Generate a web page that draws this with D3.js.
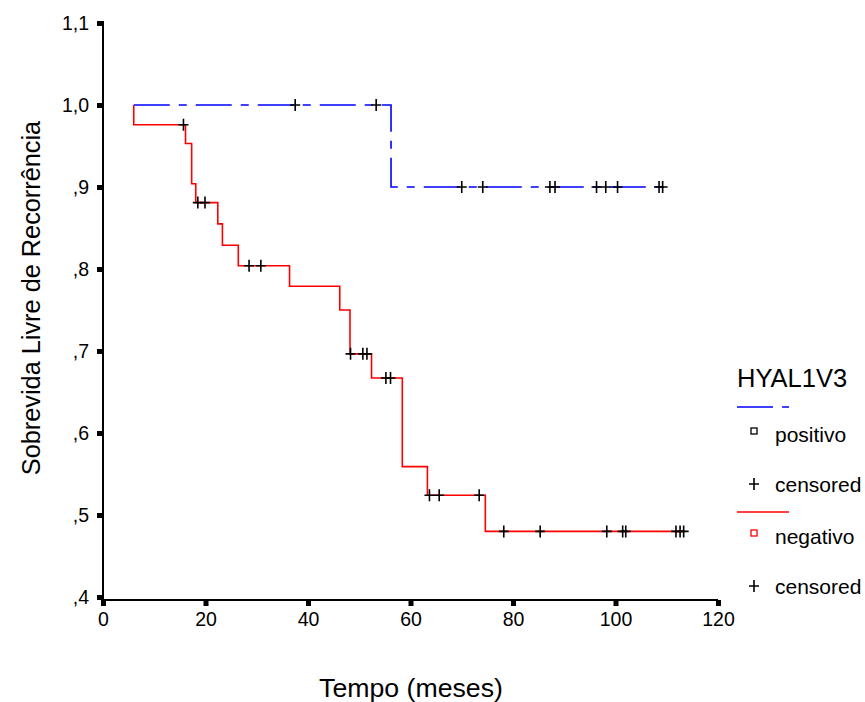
<!DOCTYPE html>
<html>
<head>
<meta charset="utf-8">
<script src="https://cdn.jsdelivr.net/npm/d3@7"></script>
<style>
  body { margin: 0; background: #fff; }
  text { font-family: Arial, "Liberation Sans", sans-serif; fill: #000; }
</style>
</head>
<body>
<svg id="km" width="865" height="702"></svg>
<script>
// Kaplan-Meier steps (time in months, survival)
const posTimes = [6, 56.2, 109.2];
const posSurv = [1.0, 0.9, 0.9];
const posCensored = [37.5, 53.3, 70, 74.1, 87.2, 88.2, 96.3, 98.1, 100.4, 108.5, 109.2];

const negTimes = [6, 6, 16.1, 17.3, 18.1, 22.4, 23.3, 26.4, 36.4, 46.2, 48.2, 52.4, 58.4, 63.3, 74.6, 113.3];
const negSurv = [1.0, 0.976, 0.953, 0.904, 0.881, 0.855, 0.829, 0.804, 0.779, 0.750, 0.6965, 0.667, 0.559, 0.524, 0.480, 0.480];
const negCensored = [15.7, 18.5, 19.9, 28.5, 30.8, 48.3, 50.7, 51.5, 55.2, 56.1, 63.7, 65.6, 73.4,
                     78.2, 85.3, 98.3, 101.4, 102, 111.8, 112.6, 113.3];

const xTicks = [0, 20, 40, 60, 80, 100, 120];
const yTicks = [0.4, 0.5, 0.6, 0.7, 0.8, 0.9, 1.0, 1.1];
const yTickLabels = [',4', ',5', ',6', ',7', ',8', ',9', '1,0', '1,1'];

const svg = d3.select('#km');
const x = d3.scaleLinear().domain([0, 120]).range([103, 718]);
const y = d3.scaleLinear().domain([0.4, 1.1]).range([597, 23]);
const xAxisY = 600;

function survAt(times, surv, t) {
    let s = surv[0];
    for (let i = 0; i < times.length; i++) {
        if (times[i] <= t) s = surv[i];
    }
    return s;
}

// axes
const yAxis = svg.append('g')
    .attr('transform', 'translate(103,0)')
    .call(d3.axisLeft(y).tickValues(yTicks).tickSize(6).tickPadding(8)
        .tickFormat((d, i) => yTickLabels[i]));
yAxis.select('.domain').attr('d', `M0,${y(1.1) - 2}V${xAxisY}`).attr('stroke-width', 2);
yAxis.selectAll('.tick line').attr('stroke-width', 5);
yAxis.selectAll('.tick text').style('font-size', '19.5px').attr('dy', '0.35em');

const xAxis = svg.append('g')
    .attr('transform', `translate(0,${xAxisY})`)
    .call(d3.axisBottom(x).tickValues(xTicks).tickSize(6).tickPadding(6));
xAxis.select('.domain').attr('d', `M${x(0)},0H${x(120)}`).attr('stroke-width', 2);
xAxis.selectAll('.tick line').attr('stroke-width', 5);
xAxis.selectAll('.tick text').style('font-size', '19.5px');

// curves
const line = d3.line().x(d => x(d[0])).y(d => y(d[1])).curve(d3.curveStepAfter);

svg.append('path')
    .datum(posTimes.map((t, i) => [t, posSurv[i]]))
    .attr('d', line)
    .attr('fill', 'none')
    .attr('stroke', '#0000ff')
    .attr('stroke-width', 1.6)
    .attr('stroke-dasharray', '36,9,8,9');

svg.append('path')
    .datum(negTimes.map((t, i) => [t, negSurv[i]]))
    .attr('d', line)
    .attr('fill', 'none')
    .attr('stroke', '#ff0000')
    .attr('stroke-width', 1.6);

// censor marks
function plus(g, cx, cy) {
    g.append('path')
        .attr('d', `M${cx - 5},${cy}H${cx + 5}M${cx},${cy - 6}V${cy + 6}`)
        .attr('stroke', '#000')
        .attr('stroke-width', 1.6)
        .attr('fill', 'none');
}
const marks = svg.append('g');
posCensored.forEach(t => plus(marks, x(t), y(survAt(posTimes, posSurv, t))));
negCensored.forEach(t => plus(marks, x(t), y(survAt(negTimes, negSurv, t))));

// axis titles
svg.append('text')
    .attr('x', 411).attr('y', 697)
    .attr('text-anchor', 'middle')
    .style('font-size', '26.7px')
    .text('Tempo (meses)');

svg.append('text')
    .attr('transform', 'translate(40,298) rotate(-90)')
    .attr('text-anchor', 'middle')
    .style('font-size', '25.3px')
    .text('Sobrevida Livre de Recorrência');

// legend
const lg = svg.append('g');
lg.append('text').attr('x', 737).attr('y', 387).style('font-size', '25.5px').text('HYAL1V3');
lg.append('path').attr('d', 'M737,407H789')
    .attr('stroke', '#0000ff').attr('stroke-width', 1.6).attr('stroke-dasharray', '36,9,8,9');
lg.append('rect').attr('x', 751).attr('y', 428).attr('width', 6).attr('height', 6)
    .attr('fill', 'none').attr('stroke', '#000').attr('stroke-width', 1.3);
lg.append('text').attr('x', 775).attr('y', 442).style('font-size', '21px').text('positivo');
plus(lg, 754, 484);
lg.append('text').attr('x', 775).attr('y', 492).style('font-size', '21px').text('censored');
lg.append('path').attr('d', 'M737,512H789')
    .attr('stroke', '#ff0000').attr('stroke-width', 1.6);
lg.append('rect').attr('x', 751).attr('y', 530).attr('width', 6).attr('height', 6)
    .attr('fill', 'none').attr('stroke', '#ff0000').attr('stroke-width', 1.3);
lg.append('text').attr('x', 775).attr('y', 544).style('font-size', '21px').text('negativo');
plus(lg, 754, 586);
lg.append('text').attr('x', 775).attr('y', 594).style('font-size', '21px').text('censored');
</script>
</body>
</html>
